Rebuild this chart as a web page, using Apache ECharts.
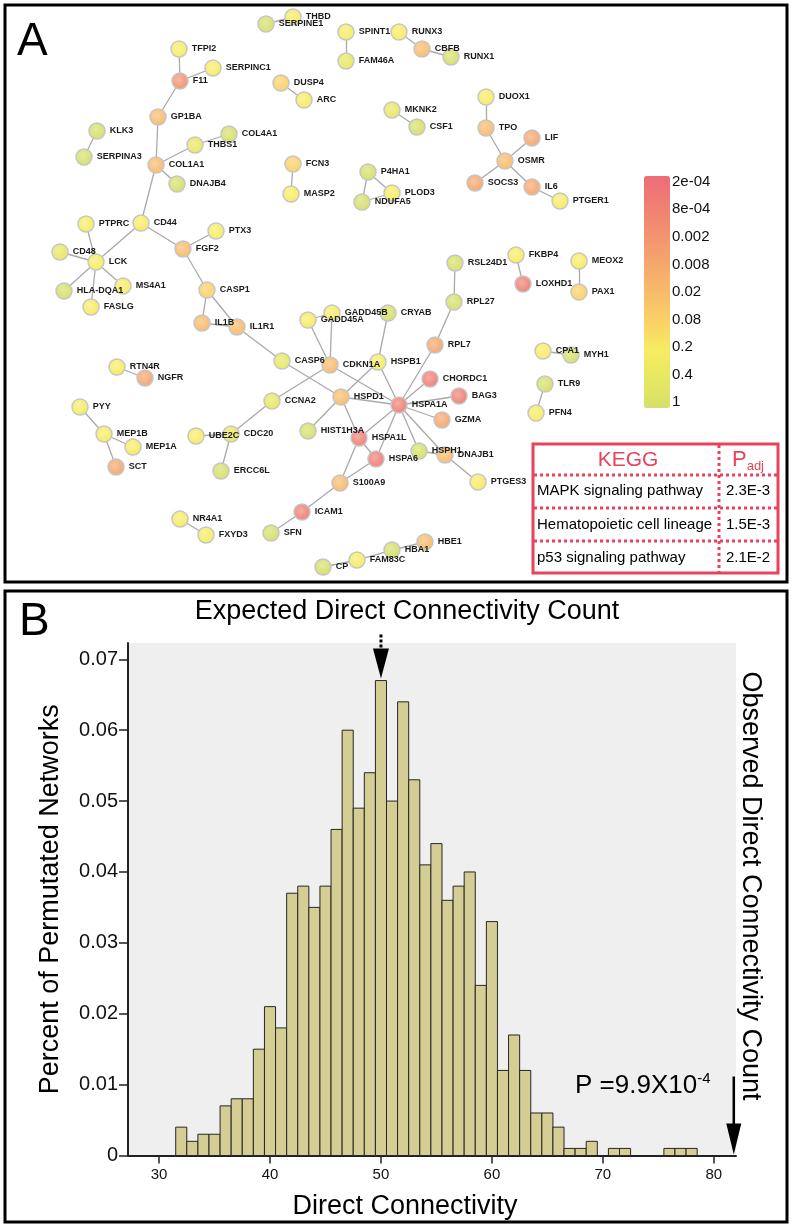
<!DOCTYPE html>
<html>
<head>
<meta charset="utf-8">
<script src="https://cdn.jsdelivr.net/npm/echarts@6/dist/echarts.min.js"></script>
<style>
  html, body { margin: 0; padding: 0; background: #fff; }
  #chart { width: 792px; height: 1227px; }
</style>
</head>
<body>
<div id="chart"></div>
<script>
// colour scale of the network (adjusted p value), top to bottom of the colour bar
var pLabels = ['2e-04', '8e-04', '0.002', '0.008', '0.02', '0.08', '0.2', '0.4', '1'];
var pColors = ['#ee6c78', '#f07f74', '#f3926f', '#f5a66e', '#f8bb6b', '#fad165', '#f6ec63', '#e6e862', '#d5e06a'];

// network nodes: name, layout x, layout y, p value class
var nodes = [
  ['THBD', 293, 17, '0.2'], ['SERPINE1', 266, 24, '1'], ['SPINT1', 346, 32, '0.2'],
  ['FAM46A', 346, 61, '0.4'], ['RUNX3', 399, 32, '0.2'], ['CBFB', 422, 49, '0.02'],
  ['RUNX1', 451, 57, '1'], ['TFPI2', 179, 49, '0.2'], ['F11', 180, 81, '0.002'],
  ['SERPINC1', 213, 68, '0.2'], ['DUSP4', 281, 83, '0.08'], ['ARC', 304, 100, '0.2'],
  ['MKNK2', 392, 110, '0.4'], ['CSF1', 417, 127, '1'], ['DUOX1', 486, 97, '0.2'],
  ['TPO', 486, 128, '0.02'], ['LIF', 532, 138, '0.008'], ['OSMR', 505, 161, '0.02'],
  ['SOCS3', 475, 183, '0.008'], ['IL6', 532, 187, '0.008'], ['PTGER1', 560, 201, '0.2'],
  ['GP1BA', 158, 117, '0.02'], ['KLK3', 97, 131, '1'], ['SERPINA3', 84, 157, '1'],
  ['COL4A1', 229, 134, '1'], ['THBS1', 195, 145, '0.4'], ['COL1A1', 156, 165, '0.02'],
  ['DNAJB4', 177, 184, '1'], ['FCN3', 293, 164, '0.08'], ['MASP2', 291, 194, '0.2'],
  ['P4HA1', 368, 172, '1'], ['NDUFA5', 362, 202, '1'], ['PLOD3', 392, 193, '0.2'],
  ['PTPRC', 86, 224, '0.2'], ['CD44', 141, 223, '0.2'], ['PTX3', 216, 231, '0.2'],
  ['FGF2', 183, 249, '0.02'], ['CD48', 60, 252, '0.4'], ['LCK', 96, 262, '0.2'],
  ['HLA-DQA1', 64, 291, '1'], ['MS4A1', 123, 286, '0.2'], ['FASLG', 91, 307, '0.2'],
  ['CASP1', 207, 290, '0.08'], ['IL1B', 202, 323, '0.02'], ['IL1R1', 237, 327, '0.02'],
  ['RSL24D1', 455, 263, '1'], ['FKBP4', 516, 255, '0.2'], ['LOXHD1', 523, 284, '8e-04'],
  ['MEOX2', 579, 261, '0.2'], ['PAX1', 579, 292, '0.08'], ['RPL27', 454, 302, '1'],
  ['GADD45A', 308, 320, '0.2'], ['GADD45B', 332, 313, '0.2'], ['CRYAB', 388, 313, '1'],
  ['CASP6', 282, 361, '0.4'], ['CDKN1A', 330, 365, '0.02'], ['HSPB1', 378, 362, '0.2'],
  ['RPL7', 435, 345, '0.008'], ['CPA1', 543, 351, '0.2'], ['MYH1', 571, 355, '1'],
  ['RTN4R', 117, 367, '0.2'], ['NGFR', 145, 378, '0.008'], ['CHORDC1', 430, 379, '8e-04'],
  ['TLR9', 545, 384, '1'], ['BAG3', 459, 396, '8e-04'], ['HSPA1A', 399, 405, '8e-04'],
  ['PYY', 80, 407, '0.2'], ['CCNA2', 272, 401, '0.4'], ['HSPD1', 341, 397, '0.02'],
  ['PFN4', 536, 413, '0.2'], ['GZMA', 442, 420, '0.008'], ['MEP1B', 104, 434, '0.2'],
  ['MEP1A', 133, 447, '0.2'], ['UBE2C', 196, 436, '0.2'], ['CDC20', 231, 434, '0.4'],
  ['HIST1H3A', 308, 431, '1'], ['HSPA1L', 359, 438, '8e-04'], ['HSPH1', 419, 451, '1'],
  ['DNAJB1', 445, 455, '0.02'], ['HSPA6', 376, 459, '8e-04'], ['SCT', 116, 467, '0.008'],
  ['ERCC6L', 221, 471, '1'], ['PTGES3', 478, 482, '0.2'], ['S100A9', 340, 483, '0.02'],
  ['ICAM1', 302, 512, '8e-04'], ['NR4A1', 180, 519, '0.2'], ['FXYD3', 206, 535, '0.2'],
  ['SFN', 271, 533, '1'], ['HBE1', 425, 542, '0.02'], ['HBA1', 392, 550, '1'],
  ['FAM83C', 357, 560, '0.2'], ['CP', 323, 567, '1']
];

var links = [
  ['TFPI2', 'F11'], ['F11', 'SERPINC1'], ['F11', 'GP1BA'], ['GP1BA', 'COL1A1'],
  ['COL1A1', 'THBS1'], ['THBS1', 'COL4A1'], ['COL1A1', 'DNAJB4'], ['COL1A1', 'CD44'],
  ['KLK3', 'SERPINA3'], ['SERPINE1', 'THBD'], ['SPINT1', 'FAM46A'], ['RUNX3', 'CBFB'],
  ['CBFB', 'RUNX1'], ['DUSP4', 'ARC'], ['FCN3', 'MASP2'], ['P4HA1', 'PLOD3'],
  ['P4HA1', 'NDUFA5'], ['NDUFA5', 'PLOD3'], ['MKNK2', 'CSF1'], ['DUOX1', 'TPO'],
  ['TPO', 'OSMR'], ['LIF', 'OSMR'], ['OSMR', 'SOCS3'], ['OSMR', 'IL6'], ['IL6', 'PTGER1'],
  ['CD44', 'LCK'], ['CD44', 'FGF2'], ['FGF2', 'PTX3'], ['FGF2', 'CASP1'], ['PTPRC', 'LCK'],
  ['CD48', 'LCK'], ['LCK', 'HLA-DQA1'], ['LCK', 'MS4A1'], ['LCK', 'FASLG'],
  ['CASP1', 'IL1B'], ['CASP1', 'IL1R1'], ['IL1B', 'IL1R1'], ['IL1R1', 'CASP6'],
  ['CASP6', 'HSPD1'], ['CDKN1A', 'GADD45A'], ['CDKN1A', 'GADD45B'], ['GADD45A', 'GADD45B'],
  ['CDKN1A', 'CCNA2'], ['CDKN1A', 'HSPA1A'], ['CRYAB', 'HSPB1'], ['HSPB1', 'HSPD1'],
  ['HSPB1', 'HSPA1A'], ['HSPD1', 'HSPA1A'], ['HSPD1', 'HIST1H3A'], ['HSPD1', 'HSPA1L'],
  ['HSPA1A', 'HSPA1L'], ['HSPA1A', 'HSPA6'], ['HSPA1A', 'RPL7'], ['RPL7', 'RPL27'],
  ['RPL27', 'RSL24D1'], ['HSPA1A', 'CHORDC1'], ['HSPA1A', 'BAG3'], ['HSPA1A', 'GZMA'],
  ['HSPA1A', 'HSPH1'], ['HSPA1A', 'DNAJB1'], ['HSPH1', 'DNAJB1'], ['DNAJB1', 'PTGES3'],
  ['HSPA1L', 'HSPA6'], ['HSPA1L', 'S100A9'], ['HSPA6', 'S100A9'], ['S100A9', 'ICAM1'],
  ['ICAM1', 'SFN'], ['CCNA2', 'CDC20'], ['CDC20', 'UBE2C'], ['CDC20', 'ERCC6L'],
  ['RTN4R', 'NGFR'], ['PYY', 'MEP1B'], ['MEP1B', 'MEP1A'], ['MEP1B', 'SCT'],
  ['NR4A1', 'FXYD3'], ['CP', 'FAM83C'], ['FAM83C', 'HBA1'], ['HBA1', 'HBE1'],
  ['FKBP4', 'LOXHD1'], ['MEOX2', 'PAX1'], ['CPA1', 'MYH1'], ['TLR9', 'PFN4']
];

// KEGG enrichment table
var keggTerms = ['MAPK signaling pathway', 'Hematopoietic cell lineage', 'p53 signaling pathway'];
var keggPadj = ['2.3E-3', '1.5E-3', '2.1E-2'];

// histogram of permutated networks
var binCenters = [32, 33, 34, 35, 36, 37, 38, 39, 40, 41, 42, 43, 44, 45, 46, 47, 48, 49, 50, 51, 52, 53, 54, 55,
  56, 57, 58, 59, 60, 61, 62, 63, 64, 65, 66, 67, 68, 69, 70, 71, 72, 73, 74, 75, 76, 77, 78];
var binShares = [0.004, 0.002, 0.003, 0.003, 0.007, 0.008, 0.008, 0.015, 0.021, 0.018, 0.037, 0.038, 0.035, 0.038,
  0.046, 0.060, 0.049, 0.054, 0.067, 0.050, 0.064, 0.053, 0.041, 0.044, 0.036, 0.038, 0.040, 0.024, 0.033,
  0.012, 0.017, 0.012, 0.006, 0.006, 0.004, 0.001, 0.001, 0.002, 0, 0.001, 0.001, 0, 0, 0, 0.001, 0.001, 0.001];
var xTicks = [30, 40, 50, 60, 70, 80];
var yTicks = [0, 0.01, 0.02, 0.03, 0.04, 0.05, 0.06, 0.07];
var expectedCount = 50;
var observedCount = 81.8;

var FONT = 'Arial, "Liberation Sans", sans-serif';
var RED = '#e8435a';

var chart = echarts.init(document.getElementById('chart'));

// shaded ball look of the network nodes
function nodeFill(p){
  var base = pColors[pLabels.indexOf(p)];
  var c = echarts.color.parse(base);
  var light = 'rgb(' + c.slice(0, 3).map(function(v){ return Math.round(v + (255 - v) * 0.35); }).join(',') + ')';
  return {
    type: 'radial', x: 0.42, y: 0.4, r: 0.62,
    colorStops: [{ offset: 0, color: light }, { offset: 1, color: base }]
  };
}

var option = {
  animation: false,
  backgroundColor: '#fff',
  textStyle: { fontFamily: FONT },
  grid: [
    { left: 0, top: 0, width: 792, height: 1227 },
    { left: 128, right: 56, top: 643, bottom: 71.5, show: true, backgroundColor: '#efefef', borderWidth: 0 },
    { left: 644, top: 168, width: 26, height: 248 }
  ],
  xAxis: [
    { gridIndex: 0, type: 'value', min: 0, max: 792, show: false },
    {
      gridIndex: 1, type: 'value', min: 27.2, max: 82,
      axisLine: { lineStyle: { color: '#222', width: 2 } },
      axisTick: { customValues: xTicks, length: 8, lineStyle: { color: '#222', width: 1.5 } },
      axisLabel: { customValues: xTicks, fontSize: 15, color: '#111', margin: 12 },
      splitLine: { show: false },
      name: 'Direct Connectivity', nameLocation: 'middle', nameGap: 38,
      nameTextStyle: { fontSize: 27, color: '#000', padding: [0, 54, 0, 0] }
    },
    { gridIndex: 2, type: 'value', show: false }
  ],
  yAxis: [
    { gridIndex: 0, type: 'value', min: 0, max: 1227, inverse: true, show: false },
    {
      gridIndex: 1, type: 'value', min: 0, max: 0.0723,
      axisLine: { show: true, lineStyle: { color: '#222', width: 2 } },
      axisTick: { show: true, customValues: yTicks, length: 9, lineStyle: { color: '#222', width: 1.5 } },
      axisLabel: {
        customValues: yTicks, fontSize: 20, color: '#111', margin: 10,
        formatter: function(v){ return v === 0 ? '0' : v.toFixed(2); }
      },
      splitLine: { show: false },
      name: 'Percent of Permutated Networks', nameLocation: 'middle', nameGap: 64,
      nameTextStyle: { fontSize: 27, color: '#000' }
    },
    {
      gridIndex: 2, type: 'category', position: 'right', data: pLabels.slice().reverse(),
      axisLine: { show: false }, axisTick: { show: false },
      axisLabel: { fontSize: 15, color: '#111', margin: 2 }
    }
  ],
  visualMap: {
    type: 'continuous', min: 0, max: 8, seriesIndex: 2, calculable: false,
    left: 644, top: 176, itemWidth: 26, itemHeight: 232, padding: 0,
    inRange: { color: pColors.slice().reverse() }
  },
  series: [
    {
      type: 'graph', coordinateSystem: 'cartesian2d', xAxisIndex: 0, yAxisIndex: 0,
      symbolSize: 16,
      data: nodes.map(function(n){
        return { name: n[0], value: [n[1], n[2]], itemStyle: { color: nodeFill(n[3]) } };
      }),
      links: links.map(function(l){ return { source: l[0], target: l[1] }; }),
      itemStyle: { borderColor: '#c6c6c6', borderWidth: 1.5 },
      lineStyle: { color: '#a9a9a9', width: 1.3, opacity: 1, curveness: 0 },
      label: { show: true, position: 'right', distance: 4, fontSize: 9, fontWeight: 'bold', color: '#1a1a1a' },
      emphasis: { disabled: true }
    },
    {
      type: 'custom', xAxisIndex: 1, yAxisIndex: 1,
      data: binCenters.map(function(c, i){ return [c, binShares[i]]; }),
      renderItem: function(params, api){
        var x = api.value(0), y = api.value(1);
        if (!y) return null;
        var p0 = api.coord([x - 0.5, y]);
        var p1 = api.coord([x + 0.5, 0]);
        return {
          type: 'rect',
          shape: { x: p0[0], y: p0[1], width: p1[0] - p0[0], height: p1[1] - p0[1] },
          style: { fill: '#d4ce94', stroke: '#262626', lineWidth: 1 }
        };
      }
    },
    { type: 'scatter', xAxisIndex: 2, yAxisIndex: 2, data: [] }
  ]
};

chart.setOption(option);

// annotations placed from the histogram scales
var peak = Math.max.apply(null, binShares);
var expTip = chart.convertToPixel({ gridIndex: 1 }, [expectedCount, peak]);
var obsTip = chart.convertToPixel({ gridIndex: 1 }, [observedCount, 0]);
var ex = expTip[0], ey = expTip[1] - 2;
var ox = obsTip[0], oy = obsTip[1] - 1;

var dotted = { stroke: RED, lineWidth: 3, lineDash: [3, 3] };
var graphics = [
  { type: 'rect', shape: { x: 5, y: 5, width: 782, height: 577 }, style: { fill: 'none', stroke: '#000', lineWidth: 3 } },
  { type: 'rect', shape: { x: 5, y: 591, width: 782, height: 631 }, style: { fill: 'none', stroke: '#000', lineWidth: 3 } },
  { type: 'text', x: 17, y: 19, style: { text: 'A', fontSize: 46, fontFamily: FONT, fill: '#000' } },
  { type: 'text', x: 19, y: 599, style: { text: 'B', fontSize: 46, fontFamily: FONT, fill: '#000' } },

  // KEGG table
  { type: 'rect', shape: { x: 533, y: 444, width: 245, height: 129 }, style: { fill: '#fff', stroke: RED, lineWidth: 3 }, z: 1 },
  { type: 'line', shape: { x1: 719, y1: 445, x2: 719, y2: 572 }, style: dotted, z: 2 },
  { type: 'line', shape: { x1: 534, y1: 475, x2: 777, y2: 475 }, style: dotted, z: 2 },
  { type: 'line', shape: { x1: 534, y1: 508, x2: 777, y2: 508 }, style: dotted, z: 2 },
  { type: 'line', shape: { x1: 534, y1: 541, x2: 777, y2: 541 }, style: dotted, z: 2 },
  { type: 'text', x: 628, y: 460, z: 2, style: { text: 'KEGG', fontSize: 21, fontFamily: FONT, fill: RED, align: 'center', verticalAlign: 'middle' } },
  { type: 'text', x: 748, y: 460, z: 2, style: {
      text: '{p|P}{s|adj}', align: 'center', verticalAlign: 'middle',
      rich: { p: { fontSize: 22, fontFamily: FONT, fill: RED, lineHeight: 26 }, s: { fontSize: 13, fontFamily: FONT, fill: RED, verticalAlign: 'bottom', lineHeight: 26, padding: [10, 0, 0, 0] } }
  } },

  { type: 'text', x: 407, y: 612, style: { text: 'Expected Direct Connectivity Count', fontSize: 27, fontFamily: FONT, fill: '#000', align: 'center', verticalAlign: 'middle' } },
  { type: 'line', shape: { x1: ex, y1: ey - 44, x2: ex, y2: ey - 29 }, style: { stroke: '#000', lineWidth: 3, lineDash: [3, 2] } },
  { type: 'polygon', shape: { points: [[ex - 8, ey - 30], [ex + 8, ey - 30], [ex, ey]] }, style: { fill: '#000' } },

  { type: 'line', shape: { x1: ox, y1: oy - 78, x2: ox, y2: oy - 30 }, style: { stroke: '#000', lineWidth: 2.5 } },
  { type: 'polygon', shape: { points: [[ox - 7.5, oy - 31], [ox + 7.5, oy - 31], [ox, oy]] }, style: { fill: '#000' } },
  { type: 'text', x: 575, y: 1086, style: {
      text: '{a|P =9.9X10}{b|-4}', verticalAlign: 'middle',
      rich: { a: { fontSize: 26, fontFamily: FONT, fill: '#000', lineHeight: 30 }, b: { fontSize: 15, fontFamily: FONT, fill: '#000', verticalAlign: 'top', lineHeight: 30, padding: [0, 0, 12, 0] } }
  } },
  { type: 'text', x: 750, y: 886, rotation: -Math.PI / 2, style: { text: 'Observed Direct Connectivity Count', fontSize: 27, fontFamily: FONT, fill: '#000', align: 'center', verticalAlign: 'middle' } }
];

keggTerms.forEach(function(t, i){
  var y = 491 + i * 33.5;
  graphics.push({ type: 'text', x: 537, y: y, z: 2, style: { text: t, fontSize: 15, fontFamily: FONT, fill: '#000', verticalAlign: 'middle' } });
  graphics.push({ type: 'text', x: 748, y: y, z: 2, style: { text: keggPadj[i], fontSize: 15, fontFamily: FONT, fill: '#000', align: 'center', verticalAlign: 'middle' } });
});

chart.setOption({ graphic: graphics });
</script>
</body>
</html>
